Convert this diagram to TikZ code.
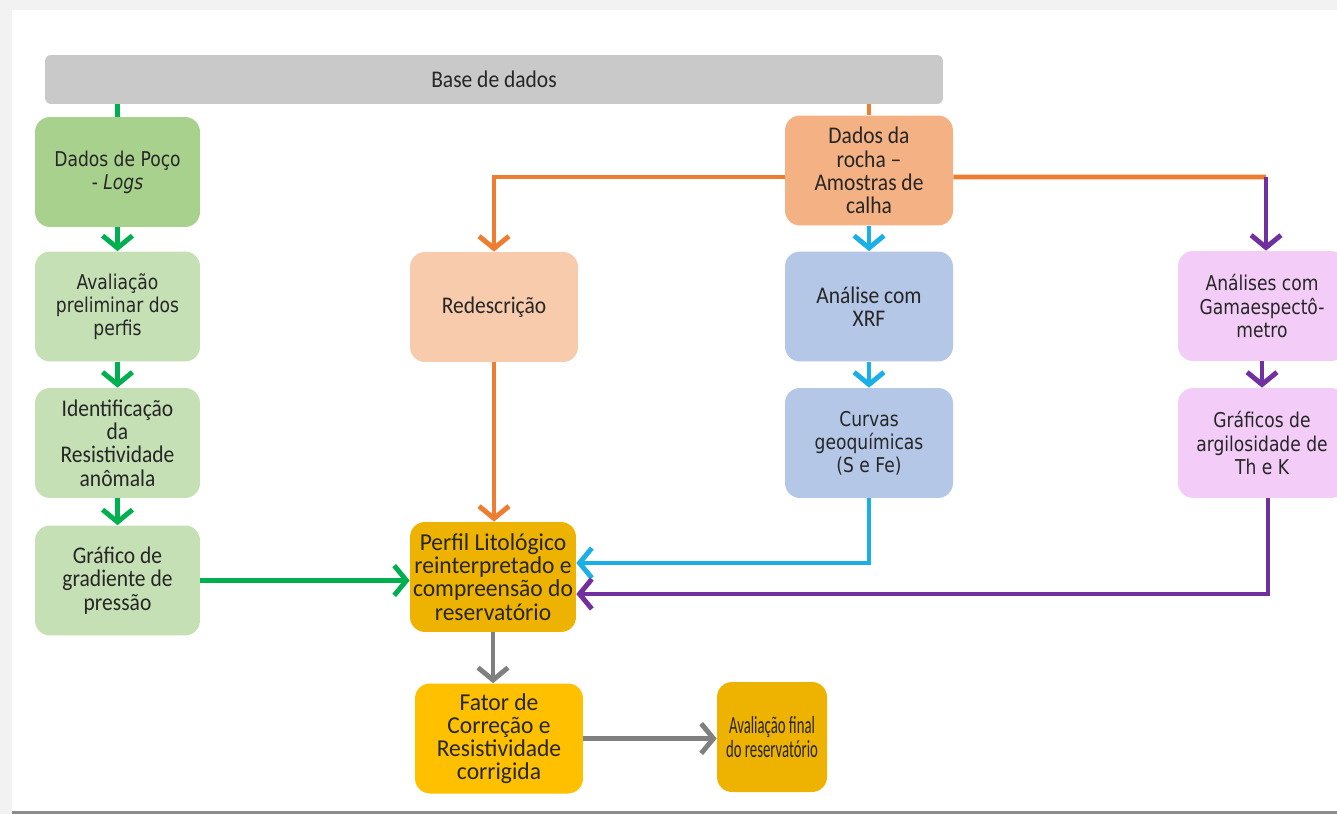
\documentclass[tikz,border=0pt]{standalone}
\usepackage{fontspec}
\setmainfont{Carlito}[FakeStretch=0.9]
\newfontfamily\widefont{Carlito}[FakeStretch=0.97]
\newfontfamily\narrowfont{Carlito}[FakeStretch=0.6]
\newfontfamily\tahoma{DejaVu Sans}[FakeStretch=0.84]
\usepackage{xcolor}
\usetikzlibrary{arrows.meta, positioning}

\definecolor{cgreen}{HTML}{00B050}
\definecolor{corange}{HTML}{ED7D31}
\definecolor{cblue}{HTML}{1AAFE6}
\definecolor{cpurple}{HTML}{7030A0}
\definecolor{cgray}{HTML}{808080}
\definecolor{fbase}{HTML}{C9C9C9}
\definecolor{fpoco}{HTML}{A9D18E}
\definecolor{flgreen}{HTML}{C5E0B4}
\definecolor{frocha}{HTML}{F4B183}
\definecolor{fredesc}{HTML}{F8CBAD}
\definecolor{fblue}{HTML}{B4C7E7}
\definecolor{fpink}{HTML}{F3CDF7}
\definecolor{fgold}{HTML}{EEB300}
\definecolor{fyellow}{HTML}{FFC000}

\begin{document}
\begin{tikzpicture}[x=0.02cm,y=-0.02cm]
\tikzstyle{box}=[rounded corners=0.3cm, align=center, inner sep=1pt, minimum width=3.3cm, minimum height=2.2cm, text=black!85, font=\fontsize{13.6}{13.2}\selectfont]
\tikzstyle{tbox}=[box, font=\tahoma\fontsize{11.6}{13.2}\selectfont]
\tikzstyle{wbox}=[box, font=\widefont\fontsize{13.8}{13.2}\selectfont]
\tikzstyle{nbox}=[box, font=\narrowfont\fontsize{14}{13.2}\selectfont]
\tikzstyle{link}=[line width=2.8pt]
\tikzstyle{flow}=[link, -{Straight Barb[length=7pt,width=17pt]}]

\useasboundingbox (0,0) rectangle (1337,814);
% frame
\fill[black!5] (0,0) rectangle (1337,814);
\fill[white] (12,10) rectangle (1337,811);
\fill[black!45] (12,811) rectangle (1337,814);

% boxes
\node[box, fill=fbase, minimum width=17.96cm, minimum height=0.98cm, rounded corners=0.12cm] (base) at (494,79.5) {Base de dados};

\node[tbox, fill=fpoco] (poco) at (117.5,172) {Dados de Poço\\- \textit{Logs}};
\node[tbox, fill=flgreen] (aval) at (117.5,306.5) {Avaliação\\preliminar dos\\perfis};
\node[box, fill=flgreen] (ident) at (117.5,443) {Identificação\\da\\Resistividade\\anômala};
\node[box, fill=flgreen] (grad) at (117.5,580.5) {Gráfico de\\gradiente de\\pressão};

\node[box, fill=fredesc, minimum width=3.36cm] (redesc) at (494,307) {Redescrição};
\node[box, fill=frocha, minimum width=3.36cm] (rocha) at (869,170.5) {Dados da\\rocha --\\Amostras de\\calha};
\node[box, fill=fblue, minimum width=3.36cm] (xrf) at (869,306.5) {Análise com\\XRF};
\node[tbox, fill=fblue, minimum width=3.36cm] (curvas) at (869,443) {Curvas\\geoquímicas\\(S e Fe)};

\node[tbox, fill=fpink, minimum width=3.36cm] (gama) at (1262,306) {Análises com\\Gamaespectô-\\metro};
\node[tbox, fill=fpink, minimum width=3.36cm] (graf) at (1262,443) {Gráficos de\\argilosidade de\\Th e K};

\node[wbox, fill=fgold, minimum width=3.32cm] (perfil) at (493,577) {Perfil Litológico\\reinterpretado e\\compreensão do\\reservatório};
\node[wbox, fill=fyellow, minimum width=3.36cm] (fator) at (499,738.5) {Fator de\\Correção e\\Resistividade\\corrigida};
\node[nbox, fill=fgold, minimum width=2.2cm] (final) at (772,737) {Avaliação final\\do reservatório};

% connectors
\draw[link, cgreen] (base.south -| poco) -- (poco.north);
\draw[link, corange] (base.south -| rocha) -- (rocha.north);

\draw[flow, cgreen] (poco) -- (aval);
\draw[flow, cgreen] (aval) -- (ident);
\draw[flow, cgreen] (ident) -- (grad);
\draw[flow, cgreen] (grad.east) -- (grad.east -| perfil.west);

\draw[flow, corange] ([yshift=-0.13cm]rocha.west) -| (redesc.north);
\coordinate (gk) at (1266,177);
\draw[link, corange] ([yshift=-0.13cm]rocha.east) -- (gk);
\draw[flow, cpurple] (gk) -- (gk |- gama.north);

\draw[flow, cblue] (rocha) -- (xrf);
\draw[flow, cblue] (xrf) -- (curvas);
\draw[flow, cblue] (curvas.south) |- ([yshift=0.28cm]perfil.east);

\draw[flow, cpurple] (gama) -- (graf);
\draw[flow, cpurple] ([xshift=0.12cm]graf.south) |- ([yshift=-0.34cm]perfil.east);

\draw[flow, corange] (redesc.south) -- (redesc.south |- perfil.north);
\draw[flow, cgray] (perfil.south) -- (perfil.south |- fator.north);
\draw[flow, cgray] (fator.east) -- (fator.east -| final.west);

\end{tikzpicture}
\end{document}
